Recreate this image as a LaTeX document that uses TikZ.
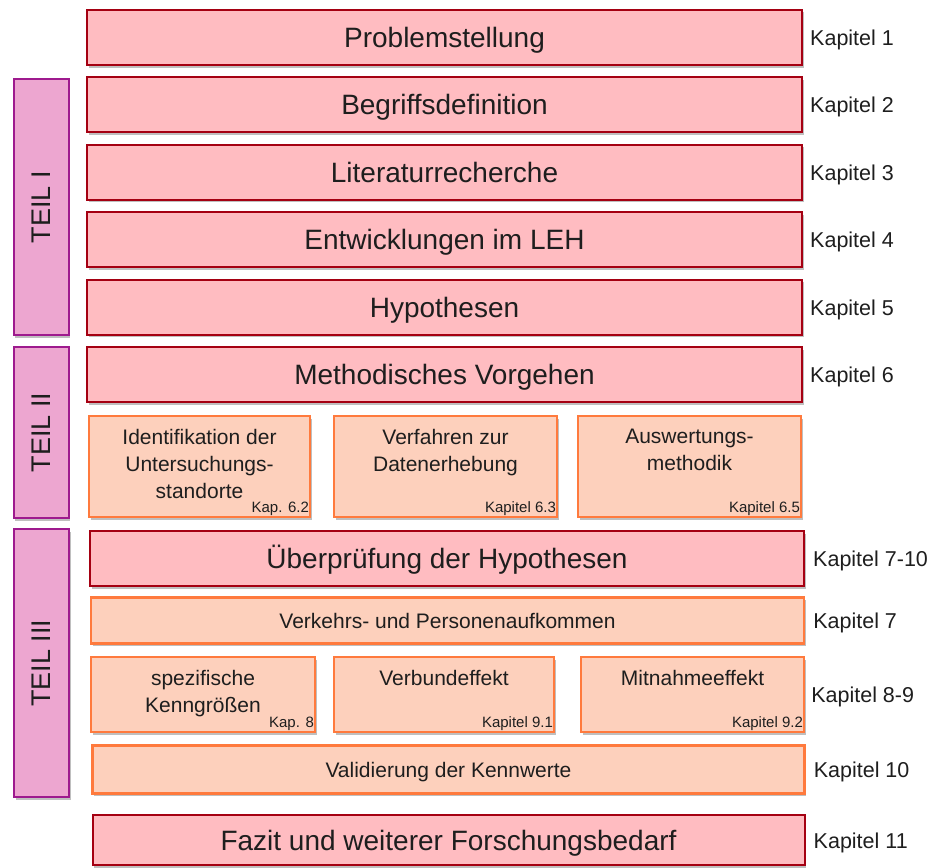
\documentclass[tikz,border=0pt]{standalone}
\usepackage{fontspec}
\setmainfont{Liberation Sans}
\usepackage{xcolor}
\usetikzlibrary{positioning, shadows}
\definecolor{hauptrand}{HTML}{A50012}
\definecolor{hauptfill}{HTML}{FFBCC1}
\definecolor{unterrand}{HTML}{FF7A3D}
\definecolor{unterfill}{HTML}{FDD0BC}
\definecolor{teilrand}{HTML}{9E1A8E}
\definecolor{teilfill}{HTML}{EDA6D0}
\definecolor{schrift}{HTML}{1E1E1E}
\tikzset{
    schatten/.style={drop shadow={shadow xshift=1.5pt, shadow yshift=-2.5pt, opacity=0.25, fill=black}},
    mainbox/.style={rectangle, draw=hauptrand, fill=hauptfill, line width=2pt, minimum width=715pt, minimum height=55pt, text height=23pt, text depth=3pt, text=schrift, font=\fontsize{28}{32}\selectfont, schatten},
    subbox/.style={rectangle, draw=unterrand, fill=unterfill, line width=2.2pt, text height=17pt, text depth=2pt, text=schrift, font=\fontsize{21}{27}\selectfont, schatten},
    teil/.style={rectangle, draw=teilrand, fill=teilfill, line width=2pt, rotate=90, minimum height=55pt, text=schrift, font=\fontsize{27}{30}\selectfont, schatten}
}

\begin{document}
\begin{tikzpicture}[
        x=1pt, y=-1pt,
        % Define styles
        subtext/.style={align=center, text=schrift, font=\fontsize{21}{27}\selectfont, inner sep=3pt},
        kap/.style={text=schrift, font=\fontsize{21.5}{24}\selectfont, text height=18pt, text depth=2pt, inner sep=1pt},
        klein/.style={text=schrift, font=\fontsize{15}{17}\selectfont, inner sep=2pt}
    ]
        \useasboundingbox (0,0) rectangle (933,867);

        % --- Hauptkapitel ---
        \node (problem) [mainbox] at (444.5,37.5) {Problemstellung};
        \node (begriffe) [mainbox, below=10.4pt of problem] {Begriffsdefinition};
        \node (literatur) [mainbox, below=10.4pt of begriffe] {Literaturrecherche};
        \node (leh) [mainbox, below=10.4pt of literatur] {Entwicklungen im LEH};
        \node (hypothesen) [mainbox, below=10.4pt of leh] {Hypothesen};
        \node (methodik) [mainbox, below=10.4pt of hypothesen] {Methodisches Vorgehen};

        % --- Methodik: Unterpunkte ---
        \node (ident) [subbox, minimum width=221pt, minimum height=101pt] at (199.5,466.5) {};
        \node (verfahren) [subbox, minimum width=223pt, minimum height=101pt] at (445.5,466.5) {};
        \node (auswertung) [subbox, minimum width=223pt, minimum height=101pt] at (689.5,466.5) {};
        \node (ident_txt) [subtext, below=11pt of ident.north] {Identifikation der\\Untersuchungs-\\standorte};
        \node (verfahren_txt) [subtext, below=11pt of verfahren.north] {Verfahren zur\\Datenerhebung};
        \node (auswertung_txt) [subtext, below=11pt of auswertung.north] {Auswertungs-\\methodik};
        \node (ident_kap) [klein, anchor=south east] at (ident.south east) {Kap. 6.2};
        \node (verfahren_kap) [klein, anchor=south east] at (verfahren.south east) {Kapitel 6.3};
        \node (auswertung_kap) [klein, anchor=south east] at (auswertung.south east) {Kapitel 6.5};

        % --- Empirie ---
        \node (pruefung) [mainbox, minimum width=714pt] at (447,558.5) {Überprüfung der Hypothesen};
        \node (verkehr) [subbox, minimum width=713pt, minimum height=46pt] at (447.5,620.5) {Verkehrs- und Personenaufkommen};
        \node (kenngr) [subbox, minimum width=224pt, minimum height=75pt] at (203,694.5) {};
        \node (verbund) [subbox, minimum width=220pt, minimum height=75pt] at (444,694.5) {};
        \node (mitnahme) [subbox, minimum width=223pt, minimum height=75pt] at (692.5,694.5) {};
        \node (kenngr_txt) [subtext, below=11pt of kenngr.north] {spezifische\\Kenngrößen};
        \node (verbund_txt) [subtext, below=11pt of verbund.north] {Verbundeffekt};
        \node (mitnahme_txt) [subtext, below=11pt of mitnahme.north] {Mitnahmeeffekt};
        \node (kenngr_kap) [klein, anchor=south east] at (kenngr.south east) {Kap. 8};
        \node (verbund_kap) [klein, anchor=south east] at (verbund.south east) {Kapitel 9.1};
        \node (mitnahme_kap) [klein, anchor=south east] at (mitnahme.south east) {Kapitel 9.2};
        \node (validierung) [subbox, minimum width=712pt, minimum height=48pt] at (448.5,769.5) {Validierung der Kennwerte};
        \node (fazit) [mainbox, minimum width=712pt, minimum height=50pt] at (448.5,840) {Fazit und weiterer Forschungsbedarf};

        % --- Kapitelangaben ---
        \node (kap1) [kap, right=6pt of problem] {Kapitel 1};
        \node (kap2) [kap, right=6pt of begriffe] {Kapitel 2};
        \node (kap3) [kap, right=6pt of literatur] {Kapitel 3};
        \node (kap4) [kap, right=6pt of leh] {Kapitel 4};
        \node (kap5) [kap, right=6pt of hypothesen] {Kapitel 5};
        \node (kap6) [kap, right=6pt of methodik] {Kapitel 6};
        \node (kap7_10) [kap, right=7pt of pruefung] {Kapitel 7-10};
        \node (kap7) [kap, right=7pt of verkehr] {Kapitel 7};
        \node (kap8_9) [kap, right=5pt of mitnahme] {Kapitel 8-9};
        \node (kap10) [kap, right=7pt of validierung] {Kapitel 10};
        \node (kap11) [kap, right=7pt of fazit] {Kapitel 11};

        % --- Teile ---
        \node (teil1) [teil, minimum width=256pt] at (41,207) {TEIL I};
        \node (teil2) [teil, minimum width=171pt] at (41,432.5) {TEIL II};
        \node (teil3) [teil, minimum width=268pt] at (41.5,663) {TEIL III};

    \end{tikzpicture}
\end{document}
